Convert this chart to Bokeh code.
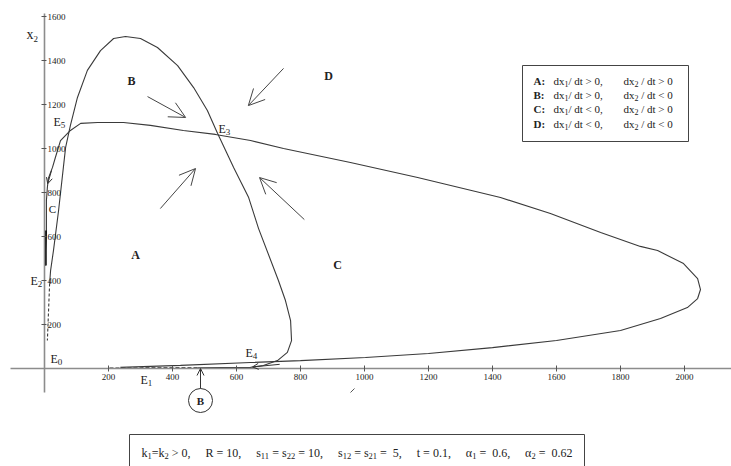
from bokeh.plotting import figure
from bokeh.models import Range1d, LinearAxis, FixedTicker, Arrow, OpenHead, ColumnDataSource
from bokeh.core.properties import value
from bokeh.embed import file_html
from bokeh.resources import INLINE

# ---------------- data ----------------
x_ticks = [200, 400, 600, 800, 1000, 1200, 1400, 1600, 1800, 2000]
y_ticks = [200, 400, 600, 800, 1000, 1200, 1400, 1600]

# dx1/dt = 0 isocline (arch)
arch_x1 = [16, 19, 28, 44, 59, 66, 81, 103, 134, 175, 216, 253, 300, 353, 416, 466,
           509, 541, 591, 638, 669, 731, 753, 769, 772, 759, 728, 684, 644, 560, 478]
arch_x2 = [386, 445, 536, 718, 914, 1005, 1105, 1232, 1355, 1445, 1500, 1509, 1500, 1459, 1377, 1277,
           1173, 1068, 914, 777, 636, 400, 309, 218, 127, 73, 36, 14, 5, 4, 3]
arch_dash_x1 = [16, 9]
arch_dash_x2 = [386, 127]
axis_dash_x1 = [478, 200]
axis_dash_x2 = [3, 2]

# dx2/dt = 0 isocline (flat loop)
flat_x1 = [3, 3, 6, 6, 9, 12, 25, 34, 50, 81, 113, 166, 247, 331, 434, 534, 644, 747, 956,
           1166, 1425, 1581, 1738, 1862, 1916, 1997, 2041, 2050, 2041, 2009, 1925, 1800,
           1600, 1400, 1200, 1003, 800, 644, 425, 237]
flat_x2 = [468, 536, 614, 764, 823, 864, 914, 959, 1036, 1082, 1114, 1118, 1118, 1105, 1082,
           1064, 1036, 1000, 936, 868, 777, 705, 618, 555, 536, 477, 409, 359, 318, 277, 227,
           173, 127, 95, 68, 50, 36, 27, 14, 5]
black_x1 = [3, 3]
black_x2 = [468, 627]

# direction arrows (start -> end)
arr_xs = [322, 747, 362, 812]
arr_ys = [1236, 1364, 727, 677]
arr_xe = [441, 637, 472, 672]
arr_ye = [1141, 1195, 909, 868]

legend_letters = ["A:", "B:", "C:", "D:"]
legend_sign1 = [">", ">", "<", "<"]
legend_sign2 = [">", "<", ">", "<"]

param_groups = [
    [("k", 0), ("1", 1), ("=", 0), ("k", 0), ("2", 1), (" > 0,", 0)],
    [("R = 10,", 0)],
    [("s", 0), ("11", 1), (" = s", 0), ("22", 1), (" = 10,", 0)],
    [("s", 0), ("12", 1), (" = s", 0), ("21", 1), (" = ", 0), (" 5,", 0)],
    [("t = 0.1,", 0)],
    [("\u03b1", 0), ("1", 1), (" = ", 0), (" 0.6,", 0)],
    [("\u03b1", 0), ("2", 1), (" = ", 0), (" 0.62", 0)],
]

# ---------------- figure ----------------
W, H = 731, 466
X0, SX = 44.0, 0.32     # page x of x1=0, px per unit
Y0, SY = 368.0, 0.22    # page y of x2=0, px per unit

def X(px):
    return (px - X0) / SX

def Y(py):
    return (Y0 - py) / SY

p = figure(width=W, height=H, x_range=Range1d(X(0), X(W)), y_range=Range1d(Y(H), Y(0)),
           output_backend="svg", toolbar_location=None, min_border=0,
           x_axis_type=None, y_axis_type=None)
p.outline_line_color = None
p.background_fill_color = "white"
p.border_fill_color = "white"

AX = "#8c8c8c"
xa = LinearAxis(fixed_location=0, ticker=FixedTicker(ticks=x_ticks), bounds=(X(10), X(731)),
                axis_line_color=AX, axis_line_width=1.6, major_tick_in=3, major_tick_out=3,
                major_tick_line_color="#555", minor_tick_line_color=None,
                major_label_text_font="Liberation Sans Narrow", major_label_text_font_size="9px",
                major_label_text_color="#222", major_label_standoff=2)
p.add_layout(xa, "below")
ya = LinearAxis(fixed_location=0, ticker=FixedTicker(ticks=y_ticks), bounds=(Y(392), Y(13)),
                axis_line_color=AX, axis_line_width=1.6, major_tick_in=3, major_tick_out=2,
                major_tick_line_color="#555", minor_tick_line_color=None,
                major_label_text_font="Liberation Sans Narrow", major_label_text_font_size="9px",
                major_label_text_color="#222", major_label_standoff=1)
p.add_layout(ya, "right")

LC = "#3a3a3a"
p.line(arch_x1, arch_x2, line_color=LC, line_width=1.1)
p.line(flat_x1, flat_x2, line_color=LC, line_width=1.1)
p.line(arch_dash_x1, arch_dash_x2, line_color=LC, line_width=1.1, line_dash="3 2")
p.line(axis_dash_x1, axis_dash_x2, line_color="#222", line_width=1.2, line_dash="4 2")
p.line(black_x1, black_x2, line_color="black", line_width=2.5)

src = ColumnDataSource(dict(xs=arr_xs, ys=arr_ys, xe=arr_xe, ye=arr_ye))
p.add_layout(Arrow(source=src, x_start="xs", y_start="ys", x_end="xe", y_end="ye",
                   line_color="#444", line_width=1,
                   end=OpenHead(size=16, line_color="#444", line_width=1)))
# small arrows
p.add_layout(Arrow(x_start=X(200), y_start=Y(388), x_end=X(200), y_end=Y(368), line_color="#333",
                   line_width=1, end=OpenHead(size=7, line_color="#333", line_width=1)))
p.add_layout(Arrow(x_start=735, y_start=19, x_end=650, y_end=7, line_color="#333", line_width=1,
                   end=OpenHead(size=6, line_color="#333", line_width=1)))
p.add_layout(Arrow(x_start=22, y_start=900, x_end=10, y_end=840, line_color="#333", line_width=1,
                   end=OpenHead(size=6, line_color="#333", line_width=1)))
p.segment(x0=[X(350)], y0=[Y(392)], x1=[X(354)], y1=[Y(388)], line_color="#555", line_width=1)

# circled B
p.scatter([X(200)], [Y(400)], marker="circle", size=24, fill_color="white", line_color="#333",
          line_width=1)

SERIF = value("Liberation Serif")
# Times / Liberation Serif advance widths (em)
WID = {' ': .25, '=': .564, '>': .564, '<': .564, ',': .25, '.': .25, '/': .278, 'k': .5,
       'R': .667, 's': .389, 't': .278, 'd': .5, 'x': .5, 'E': .611, '\u03b1': .53}

def tw(s, size):
    return sum(WID.get(c, .5) for c in s) * size

def txt(px, py, t, size=12, align="left", bold=False, color="#222"):
    p.text(x=[X(px)], y=[Y(py)], text=[t], text_font=SERIF, text_font_size=f"{size}px",
           text_align=align, text_baseline="middle", text_color=color,
           text_font_style="bold" if bold else "normal")

def rich(px, py, pieces, size=11, sub=8, drop=3.0, draw=True):
    x = px
    for s, is_sub in pieces:
        fs = sub if is_sub else size
        lead = len(s) - len(s.lstrip(' '))
        trail = len(s) - len(s.rstrip(' '))
        core = s.strip(' ')
        x += lead * WID[' '] * fs
        if draw and core:
            txt(x, py + (drop if is_sub else 0), core, size=fs)
        x += tw(core, fs) + trail * WID[' '] * fs
    return x - px

# region letters
txt(131, 80, "B", bold=True, align="center")
txt(328, 75, "D", bold=True, align="center")
txt(135, 254, "A", bold=True, align="center")
txt(337, 264, "C", bold=True, align="center")
txt(52, 208, "C", size=11, align="center")
txt(200, 400, "B", bold=True, size=11, align="center")

# equilibria
for name, sub, lx, ly in [("E", "5", 53, 121), ("E", "3", 218, 128), ("E", "2", 30, 280),
                          ("E", "0", 50, 358), ("E", "4", 245, 352), ("E", "1", 140, 379)]:
    rich(lx, ly, [(name, 0), (sub, 1)], size=12, sub=9, drop=3)

# axis label
rich(26, 34, [("x", 0), ("2", 1)], size=14, sub=9, drop=4)

# legend box
p.quad(left=[X(522)], right=[X(688)], bottom=[Y(141)], top=[Y(65)], fill_color="white",
       line_color="#444", line_width=1)
rows_py = [80, 94, 108, 123]
for i in range(4):
    txt(533, rows_py[i], legend_letters[i], bold=True, size=11)
    rich(553, rows_py[i], [("dx", 0), ("1", 1), ("/ dt " + legend_sign1[i] + " 0,", 0)],
         size=11, sub=8, drop=3)
    rich(623, rows_py[i], [("dx", 0), ("2", 1), (" / dt " + legend_sign2[i] + " 0", 0)],
         size=11, sub=8, drop=3)

# parameter box
p.quad(left=[X(129)], right=[X(584)], bottom=[Y(480)], top=[Y(434)], fill_color="white",
       line_color="#444", line_width=1)
widths = [rich(0, 0, g, size=12, sub=8.5, drop=3, draw=False) for g in param_groups]
gap = (572 - 141 - sum(widths)) / (len(param_groups) - 1)
cx = 141
for g, w in zip(param_groups, widths):
    rich(cx, 452, g, size=12, sub=8.5, drop=3)
    cx += w + gap

open("out.html", "w").write(file_html(p, INLINE))
